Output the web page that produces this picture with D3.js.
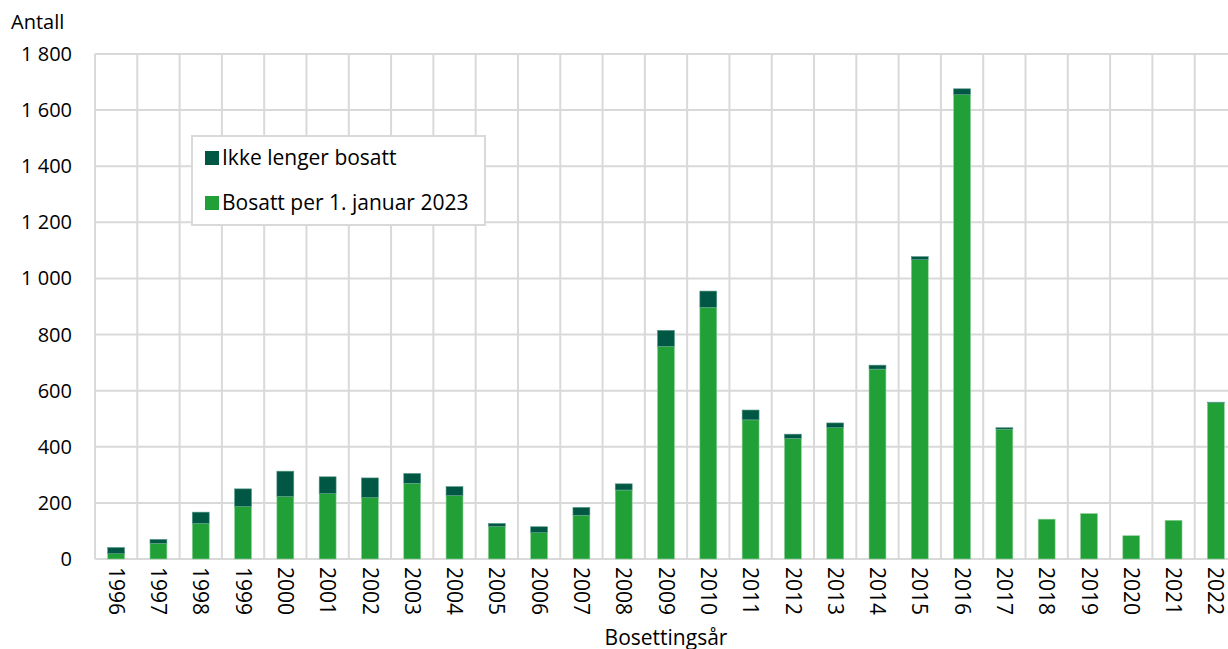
<!DOCTYPE html>
<html>
<head>
<meta charset="utf-8">
<script src="https://cdn.jsdelivr.net/npm/d3@7"></script>
<style>
  body { margin: 0; background: #fff; overflow: hidden; }
  svg { display: block; font-family: "Open Sans", "Noto Sans", sans-serif; }
</style>
</head>
<body>
<svg id="chart" width="1228" height="649"></svg>
<script>
// values
var years = ["1996","1997","1998","1999","2000","2001","2002","2003","2004","2005","2006","2007","2008",
  "2009","2010","2011","2012","2013","2014","2015","2016","2017","2018","2019","2020","2021","2022"];
var bosatt = [19, 56, 127, 187, 223, 233, 219, 270, 226, 116, 94, 156, 246,
  758, 897, 496, 430, 468, 677, 1067, 1655, 463, 142, 162, 83, 138, 557];
var ikkeBosatt = [22, 14, 40, 63, 90, 60, 70, 35, 32, 11, 21, 28, 22,
  57, 58, 35, 15, 17, 14, 11, 21, 5, 0, 0, 0, 0, 2];
var yTicks = [0, 200, 400, 600, 800, 1000, 1200, 1400, 1600, 1800];
var seriesNames = ["Ikke lenger bosatt", "Bosatt per 1. januar 2023"];
var colors = { bosatt: "#21a038", ikke: "#005743" };

var svg = d3.select("#chart");
// plot area (right edge runs past the window, as in the reference)
var m = { left: 95, right: 1237, top: 54, bottom: 559 };

var x = d3.scaleBand().domain(years).range([m.left, m.right]).paddingInner(0).paddingOuter(0);
var y = d3.scaleLinear().domain([0, 1800]).range([m.bottom, m.top]);
var barW = x.bandwidth() * 0.4;

var fmt = function (v) { return d3.format(",")(v).replace(/,/g, " "); };

// grid
var grid = svg.append("g").attr("stroke", "#d9d9d9").attr("stroke-width", 2);
grid.selectAll("line.h").data(yTicks).enter().append("line")
  .attr("x1", m.left).attr("x2", m.right)
  .attr("y1", d => y(d)).attr("y2", d => y(d));
grid.selectAll("line.v").data(years.concat(["end"])).enter().append("line")
  .attr("x1", (d, i) => m.left + i * x.step()).attr("x2", (d, i) => m.left + i * x.step())
  .attr("y1", m.top).attr("y2", m.bottom);

// stacked bars
var data = years.map((yr, i) => ({ year: yr, a: bosatt[i], b: ikkeBosatt[i] }));
var g = svg.append("g");
g.selectAll("rect.bos").data(data).enter().append("rect")
  .attr("x", d => x(d.year) + (x.bandwidth() - barW) / 2)
  .attr("width", barW)
  .attr("y", d => y(d.a))
  .attr("height", d => y(0) - y(d.a))
  .attr("fill", colors.bosatt)
  .attr("stroke", "#8fd09a").attr("stroke-width", 0.6);
g.selectAll("rect.ikke").data(data.filter(d => d.b > 0)).enter().append("rect")
  .attr("x", d => x(d.year) + (x.bandwidth() - barW) / 2)
  .attr("width", barW)
  .attr("y", d => y(d.a + d.b))
  .attr("height", d => y(d.a) - y(d.a + d.b))
  .attr("fill", colors.ikke)
  .attr("stroke", "#5a9a88").attr("stroke-width", 0.6);

// y axis labels
svg.append("g").selectAll("text").data(yTicks).enter().append("text")
  .attr("x", 72).attr("y", d => y(d)).attr("dy", "0.35em")
  .attr("text-anchor", "end").attr("font-size", 20).attr("fill", "#000")
  .text(d => fmt(d));

svg.append("text").attr("x", 11).attr("y", 29).attr("font-size", 20).text("Antall");

// x axis labels (rotated)
svg.append("g").selectAll("text").data(years).enter().append("text")
  .attr("transform", d => "translate(" + (x(d) + x.bandwidth() / 2) + "," + 567 + ") rotate(90)")
  .attr("dy", "0.35em").attr("font-size", 21).attr("text-anchor", "start")
  .text(d => d);

svg.append("text").attr("x", 666).attr("y", 645).attr("text-anchor", "middle")
  .attr("font-size", 21).text("Bosettingsår");

// legend
var lg = svg.append("g");
lg.append("rect").attr("x", 192).attr("y", 136).attr("width", 293).attr("height", 89)
  .attr("fill", "#fff").attr("stroke", "#d9d9d9").attr("stroke-width", 2);
var items = [{ name: seriesNames[0], c: colors.ikke }, { name: seriesNames[1], c: colors.bosatt }];
items.forEach(function (it, i) {
  var cy = 158 + i * 45;
  lg.append("rect").attr("x", 205).attr("y", cy - 7).attr("width", 14).attr("height", 14).attr("fill", it.c);
  lg.append("text").attr("x", 222).attr("y", cy).attr("dy", "0.35em").attr("font-size", 21).text(it.name);
});
</script>
</body>
</html>
